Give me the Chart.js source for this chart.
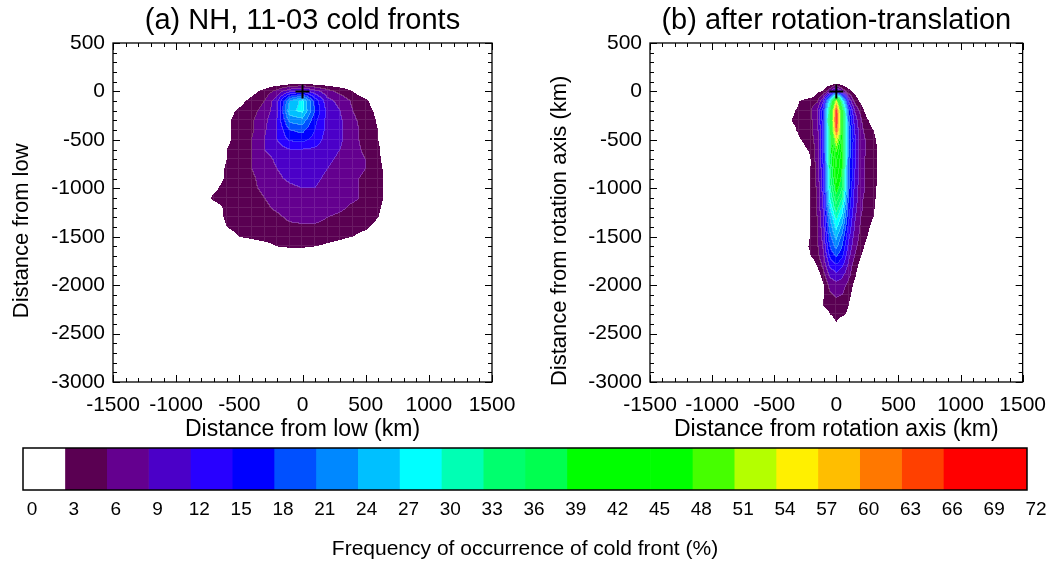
<!DOCTYPE html>
<html>
<head>
<meta charset="utf-8">
<title>Cold front frequency</title>
<script src="https://cdn.jsdelivr.net/npm/chart.js@4.4.1/dist/chart.umd.min.js"></script>
<style>
  body { margin: 0; background: #fff; }
  #wrap { position: relative; width: 1057px; height: 570px; }
  canvas { position: absolute; }
</style>
</head>
<body>
<div id="wrap">
  <canvas id="panelA" width="530" height="450" style="left:0;top:0"></canvas>
  <canvas id="panelB" width="527" height="450" style="left:530px;top:0"></canvas>
  <canvas id="colorBar" width="1057" height="130" style="left:0;top:440px"></canvas>
</div>
<script>
// contour levels (%) and their fill colours
const levels = [0, 3, 6, 9, 12, 15, 18, 21, 24, 27, 30, 33, 36, 39, 42, 45, 48, 51, 54, 57, 60, 63, 66, 69, 72];
const levelColors = ['#ffffff', '#5a0052', '#64008f', '#4b00c8', '#2800ff', '#0000ff', '#0050ff', '#0088ff',
  '#00c0ff', '#00ffff', '#00ffb4', '#00ff6e', '#00ff50', '#00ff00', '#00ff00', '#00ff00', '#46ff00',
  '#b4ff00', '#fff000', '#ffbe00', '#ff7800', '#ff4000', '#ff0000', '#ff0000'];

// axis ticks (km)
const xTicksKm = [-1500, -1000, -500, 0, 500, 1000, 1500];
const yTicksKm = [500, 0, -500, -1000, -1500, -2000, -2500, -3000];

// position of the low / rotation axis origin
const lowCentre = [{ x: 0, y: 0 }];

// (a) frequency (%) on grid nodes, rows from y=100 km down to y=-1700 km
const xKmA = [-800, -700, -600, -500, -400, -300, -200, -100, 0, 100, 200, 300, 400, 500, 600, 700];
const yKmA = [100, 0, -100, -200, -300, -400, -500, -600, -700, -800, -900, -1000, -1100, -1200, -1300, -1400, -1500, -1600, -1700];
const freqA = [
  [0, 0, 0, 0, 0, 0, 0, 0, 0, 0, 0, 0, 0, 0, 0, 0],
  [0, 0, 0, 0, 2, 4, 7, 11, 13, 10, 7, 5, 3, 0, 0, 0],
  [0, 0, 0, 2, 4, 6, 11, 24, 28, 17, 10, 8, 5.5, 4, 0, 0],
  [0, 0, 2, 3.5, 5, 7, 11, 26, 28, 18, 11, 9, 6, 4.5, 2, 0],
  [0, 0, 2.5, 4, 5.5, 8, 12, 22, 23, 16, 11, 9.5, 6.5, 5, 2.5, 0],
  [0, 0, 2.5, 4, 5.5, 8.5, 12, 18, 19, 15, 11, 9.5, 7, 5, 3, 0],
  [0, 0, 2.5, 4, 6, 9, 12, 15.5, 16, 14, 10.5, 9.5, 7, 5, 3, 0],
  [0, 0, 3, 4, 6, 9, 10.5, 12, 12, 11.5, 10, 9, 7, 5.5, 3.5, 0],
  [0, 0, 3, 4.5, 6, 8, 9.5, 10.5, 10.5, 10.5, 9.5, 8.5, 7, 6, 3.5, 1],
  [0, 1, 3.5, 4.5, 6, 7.5, 9, 10, 10.5, 10, 9, 8, 7, 6, 4, 1],
  [0, 1.5, 3.5, 4.5, 5.5, 7, 8.5, 9.5, 10, 9.5, 8.5, 7.5, 6.5, 5.5, 4, 1],
  [1, 2.5, 4, 4.5, 5.5, 6.5, 7.5, 8.5, 9, 9, 8, 7, 6.5, 5.5, 4, 1.5],
  [1.5, 3.5, 4, 4.5, 5, 6, 7, 8, 8.5, 8.5, 7.5, 7, 6.5, 5.5, 4, 1.5],
  [0.5, 2, 3.5, 4, 4.5, 5.5, 6.5, 7.5, 8, 8, 7, 6.5, 5.5, 5, 3.5, 1],
  [0, 1.5, 3.5, 4, 4.5, 5, 5.5, 6.5, 7, 7, 6, 5.5, 5, 4.5, 3, 0.5],
  [0, 1, 3, 4, 4, 4.5, 5, 5.5, 5.5, 5.5, 5, 4.5, 4, 3.5, 2, 0],
  [0, 0, 1.5, 3, 3.5, 4, 4.5, 4.5, 4.5, 4.5, 4, 3.5, 3, 2, 0, 0],
  [0, 0, 0, 1, 1.5, 2, 3, 3.5, 3.5, 3, 2.5, 2, 1, 0, 0, 0],
  [0, 0, 0, 0, 0, 0, 0, 0, 0, 0, 0, 0, 0, 0, 0, 0]
];

// (b) frequency (%) after rotation-translation, rows from y=100 km down to y=-2500 km
const xKmB = [-400, -350, -300, -250, -200, -150, -100, -50, 0, 50, 100, 150, 200, 250, 300, 350, 400];
const yKmB = [100, 0, -100, -200, -300, -400, -500, -600, -700, -800, -900, -1000, -1100, -1200, -1300,
  -1400, -1500, -1600, -1700, -1800, -1900, -2000, -2100, -2200, -2300, -2400, -2500];
const freqB = [
  [0, 0, 0, 0, 0, 0, 0, 0, 0, 0, 0, 0, 0, 0, 0, 0, 0],
  [0, 0, 0, 0, 0, 2.5, 3.5, 8, 14, 8, 4, 2, 0, 0, 0, 0, 0],
  [0, 0, 3, 3.8, 4.5, 5.5, 12, 30, 55, 30, 12, 5, 2, 0, 0, 0, 0],
  [0, 2.5, 3.8, 4.5, 6, 9, 17, 38, 68, 40, 18, 9, 5, 1, 0, 0, 0],
  [1, 3.3, 4, 4.5, 5.5, 8.5, 17, 40, 69, 42, 20, 11, 6.5, 3.5, 1, 0, 0],
  [0, 2, 3.8, 4.5, 5.5, 8, 16, 38, 66, 42, 21, 12, 7, 4.5, 3, 0.5, 0],
  [0, 0, 2.5, 4, 5, 7.5, 16, 37, 55, 42, 22, 13, 7.5, 5.5, 4, 1.5, 0],
  [0, 0, 0, 2.5, 4, 7.5, 16, 37, 49, 41, 21, 12.5, 7.5, 5.5, 4.3, 2, 0],
  [0, 0, 0, 0, 3.5, 7.5, 16, 36, 46, 40, 20, 12.5, 7, 5.5, 4.3, 2, 0],
  [0, 0, 0, 0.5, 3.5, 7, 15, 35, 45, 39, 20, 12.5, 7, 5.5, 4.3, 2, 0],
  [0, 0, 0, 1, 3.5, 7, 14.5, 34, 43, 38, 20, 12, 7, 5.5, 4.3, 2, 0],
  [0, 0, 0, 1, 3.5, 6.5, 14, 32, 41, 36, 19, 11.5, 7, 5.5, 4.2, 1.5, 0],
  [0, 0, 0, 1, 3.5, 6.5, 13, 30, 38, 33, 18, 11, 6.5, 5.2, 4, 1, 0],
  [0, 0, 0, 1, 3.5, 6.5, 12.5, 27, 35, 29, 17, 10.5, 6.5, 5, 3.5, 0.5, 0],
  [0, 0, 0, 1.5, 3.5, 6, 11.5, 24, 31, 26, 16, 9.5, 6, 4.5, 3, 0, 0],
  [0, 0, 0, 1.5, 3.5, 6, 11, 22, 28, 23, 14.5, 9, 5.5, 4, 1.5, 0, 0],
  [0, 0, 0, 1.5, 3.5, 5.5, 10.5, 20, 25, 20, 13, 8, 5, 3, 0.5, 0, 0],
  [0, 0, 0, 2, 4, 5.5, 9.5, 18, 22, 18, 11.5, 7, 4.5, 1.5, 0, 0, 0],
  [0, 0, 0, 0, 3.5, 5, 8.5, 15.5, 18.5, 15.5, 10, 6, 3, 0, 0, 0, 0],
  [0, 0, 0, 0, 0, 3.5, 7, 12.5, 14.5, 12.5, 8.5, 4.5, 1.5, 0, 0, 0, 0],
  [0, 0, 0, 0, 0, 1, 5, 9.5, 11, 9.5, 7, 3.5, 0, 0, 0, 0, 0],
  [0, 0, 0, 0, 0, 0, 3, 7, 8, 7.5, 5, 2, 0, 0, 0, 0, 0],
  [0, 0, 0, 0, 0, 0, 3, 5.5, 6.5, 6, 4, 1, 0, 0, 0, 0, 0],
  [0, 0, 0, 0, 0, 0, 3.5, 4.5, 5, 4.5, 3, 0.5, 0, 0, 0, 0, 0],
  [0, 0, 0, 0, 0, 0, 1, 3, 4, 3.5, 2.5, 0, 0, 0, 0, 0, 0],
  [0, 0, 0, 0, 0, 0, 0, 1, 2.8, 1, 0, 0, 0, 0, 0, 0, 0],
  [0, 0, 0, 0, 0, 0, 0, 0, 0, 0, 0, 0, 0, 0, 0, 0, 0]
];

Chart.defaults.font.family = "'Liberation Sans', Arial, Helvetica, sans-serif";
Chart.defaults.color = '#000';

function hexToRgb(hex) {
  const n = parseInt(hex.slice(1), 16);
  return [(n >> 16) & 255, (n >> 8) & 255, n & 255];
}
const levelRgb = levelColors.map(hexToRgb);

// bilinear value between grid nodes
function sampleField(xs, ys, grid, xv, yv) {
  if (xv < xs[0] || xv > xs[xs.length - 1] || yv > ys[0] || yv < ys[ys.length - 1]) return 0;
  let i = 0;
  while (i < xs.length - 2 && xv > xs[i + 1]) i++;
  let j = 0;
  while (j < ys.length - 2 && yv < ys[j + 1]) j++;
  const t = (xv - xs[i]) / (xs[i + 1] - xs[i]);
  const u = (yv - ys[j]) / (ys[j + 1] - ys[j]);
  const top = grid[j][i] * (1 - t) + grid[j][i + 1] * t;
  const bot = grid[j + 1][i] * (1 - t) + grid[j + 1][i + 1] * t;
  return top * (1 - u) + bot * u;
}

function levelIndex(v) {
  if (v < levels[1]) return 0;
  return Math.min(levelColors.length - 1, Math.floor(v / 3));
}

// filled contours, painted pixel by pixel through the chart scales
function fieldPlugin(xs, ys, grid) {
  return {
    id: 'field',
    beforeDatasetsDraw(chart) {
      const { ctx, scales: { x, y } } = chart;
      const x0 = Math.floor(x.getPixelForValue(xs[0]));
      const x1 = Math.ceil(x.getPixelForValue(xs[xs.length - 1]));
      const y0 = Math.floor(y.getPixelForValue(ys[0]));
      const y1 = Math.ceil(y.getPixelForValue(ys[ys.length - 1]));
      const w = x1 - x0, h = y1 - y0;
      const xv = [], yv = [];
      for (let c = 0; c <= w; c++) xv.push(x.getValueForPixel(x0 + c + 0.5));
      for (let r = 0; r <= h; r++) yv.push(y.getValueForPixel(y0 + r + 0.5));
      const lev = new Int16Array(w * h);
      for (let r = 0; r < h; r++) {
        for (let c = 0; c < w; c++) {
          lev[r * w + c] = levelIndex(sampleField(xs, ys, grid, xv[c], yv[r]));
        }
      }
      const img = ctx.getImageData(x0, y0, w, h);
      for (let r = 0; r < h; r++) {
        for (let c = 0; c < w; c++) {
          const k = lev[r * w + c];
          if (k === 0) continue;
          const right = c + 1 < w ? lev[r * w + c + 1] : 0;
          const below = r + 1 < h ? lev[(r + 1) * w + c] : 0;
          // thin pale contour lines between bands
          const edge = (right > 0 && right !== k) || (below > 0 && below !== k);
          // faint 100 km cell lines
          const cell = Math.floor(xv[c] / 100) !== Math.floor(xv[c + 1] / 100) ||
                       Math.floor(yv[r] / 100) !== Math.floor(yv[r + 1] / 100);
          const mix = edge ? 0.22 : (cell ? 0.1 : 0);
          const rgb = levelRgb[k];
          const p = (r * w + c) * 4;
          img.data[p] = rgb[0] + (255 - rgb[0]) * mix;
          img.data[p + 1] = rgb[1] + (255 - rgb[1]) * mix;
          img.data[p + 2] = rgb[2] + (255 - rgb[2]) * mix;
          img.data[p + 3] = 255;
        }
      }
      ctx.putImageData(img, x0, y0);
    }
  };
}

// box with inward minor/major ticks on all four sides
const frameTicks = {
  id: 'frameTicks',
  afterDraw(chart) {
    const { ctx, chartArea: a, scales: { x, y } } = chart;
    ctx.save();
    ctx.strokeStyle = '#000';
    ctx.lineWidth = 1.3;
    ctx.strokeRect(a.left, a.top, a.right - a.left, a.bottom - a.top);
    ctx.lineWidth = 1;
    ctx.beginPath();
    for (let v = x.min; v <= x.max; v += 100) {
      const px = Math.round(x.getPixelForValue(v)) + 0.5;
      const len = v % 500 === 0 ? 7 : 4;
      ctx.moveTo(px, a.bottom); ctx.lineTo(px, a.bottom - len);
      ctx.moveTo(px, a.top); ctx.lineTo(px, a.top + len);
    }
    for (let v = y.min; v <= y.max; v += 100) {
      const py = Math.round(y.getPixelForValue(v)) + 0.5;
      const len = v % 500 === 0 ? 7 : 4;
      ctx.moveTo(a.left, py); ctx.lineTo(a.left + len, py);
      ctx.moveTo(a.right, py); ctx.lineTo(a.right - len, py);
    }
    ctx.stroke();
    ctx.restore();
  }
};

const pad = '\u00a0'.repeat(6);
const plain = v => String(v);

function makePanel(id, cfg) {
  return new Chart(document.getElementById(id), {
    type: 'scatter',
    data: {
      datasets: [{
        data: lowCentre,
        pointStyle: 'cross',
        pointRadius: 7,
        borderColor: '#000',
        backgroundColor: '#000',
        borderWidth: 2
      }]
    },
    options: {
      responsive: false,
      animation: false,
      layout: { padding: { left: 0, right: cfg.padRight, top: 0, bottom: 0 } },
      plugins: {
        legend: { display: false },
        tooltip: { enabled: false },
        title: {
          display: true,
          text: cfg.title,
          fullSize: false,
          color: '#000',
          font: { size: 29, weight: 'normal' },
          padding: { top: 4, bottom: 4.2 }
        }
      },
      scales: {
        x: {
          type: 'linear',
          min: -1500,
          max: 1500,
          afterBuildTicks: s => { s.ticks = xTicksKm.map(v => ({ value: v })); },
          afterFit: s => { s.height = 68; },
          ticks: { font: { size: 21 }, padding: 11, maxRotation: 0, autoSkip: false, callback: plain },
          grid: { display: false, drawTicks: false },
          border: { display: false },
          title: { display: true, text: cfg.xTitle, font: { size: 23 }, padding: { top: 0, bottom: 7 } }
        },
        y: {
          type: 'linear',
          min: -3000,
          max: 500,
          afterBuildTicks: s => { s.ticks = yTicksKm.map(v => ({ value: v })); },
          afterFit: s => { s.width = cfg.yWidth; },
          ticks: { font: { size: 21 }, padding: 8, autoSkip: false, callback: plain },
          grid: { display: false, drawTicks: false },
          border: { display: false },
          title: { display: true, text: cfg.yTitle + pad, font: { size: 22 }, padding: { top: cfg.yTitlePad, bottom: 0 } }
        }
      }
    },
    plugins: [fieldPlugin(cfg.xs, cfg.ys, cfg.grid), frameTicks]
  });
}

makePanel('panelA', {
  title: '(a) NH, 11-03 cold fronts',
  xTitle: 'Distance from low (km)',
  yTitle: 'Distance from low',
  yWidth: 113, padRight: 38, yTitlePad: 9,
  xs: xKmA, ys: yKmA, grid: freqA
});

makePanel('panelB', {
  title: '(b) after rotation-translation',
  xTitle: 'Distance from rotation axis (km)',
  yTitle: 'Distance from rotation axis (km)',
  yWidth: 120, padRight: 28, yTitlePad: 17,
  xs: xKmB, ys: yKmB, grid: freqB
});

// colour bar: one floating bar per contour interval
const barBox = {
  id: 'barBox',
  afterDraw(chart) {
    const { ctx, chartArea: a } = chart;
    ctx.save();
    ctx.strokeStyle = '#000';
    ctx.lineWidth = 1.5;
    ctx.strokeRect(a.left, a.top, a.right - a.left, a.bottom - a.top);
    ctx.restore();
  }
};

new Chart(document.getElementById('colorBar'), {
  type: 'bar',
  data: {
    labels: [''],
    datasets: levelColors.map((c, i) => ({
      data: [[levels[i], levels[i + 1]]],
      backgroundColor: c,
      borderWidth: 0,
      grouped: false,
      barPercentage: 1,
      categoryPercentage: 1
    }))
  },
  options: {
    indexAxis: 'y',
    responsive: false,
    animation: false,
    layout: { padding: { left: 23, right: 30, top: 8, bottom: 0 } },
    plugins: { legend: { display: false }, tooltip: { enabled: false } },
    scales: {
      x: {
        type: 'linear',
        min: 0,
        max: 72,
        afterBuildTicks: s => { s.ticks = levels.map(v => ({ value: v })); },
        afterFit: s => { s.height = 80; },
        ticks: { font: { size: 19 }, padding: 8, labelOffset: 9, maxRotation: 0, autoSkip: false },
        grid: { display: false, drawTicks: false },
        border: { display: false },
        title: {
          display: true,
          text: 'Frequency of occurrence of cold front (%)',
          font: { size: 21 },
          padding: { top: 0, bottom: 8 }
        }
      },
      y: { display: false }
    }
  },
  plugins: [barBox]
});
</script>
</body>
</html>
